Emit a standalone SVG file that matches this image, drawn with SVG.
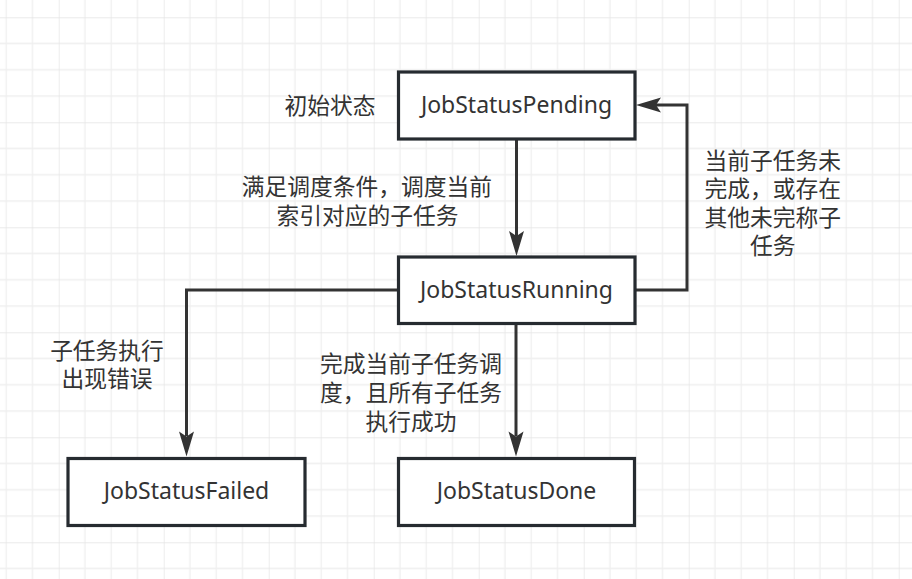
<svg xmlns="http://www.w3.org/2000/svg" width="912" height="579" viewBox="0 0 912 579">
<style>
.box{fill:#ffffff;stroke:#262b30;stroke-width:3.2;}
.lbl{font-family:"Noto Sans","Open Sans","Liberation Sans",sans-serif;font-size:23px;fill:#333333;text-anchor:middle;}
.cn{font-family:"Noto Sans CJK SC","Noto Sans",sans-serif;font-size:22.75px;fill:#333333;text-anchor:middle;}
.edge{fill:none;stroke:#333333;stroke-width:3;}
.head{fill:#333333;stroke:none;}
</style>
<defs>
<pattern id="grid" patternUnits="userSpaceOnUse" x="-46.3" y="17.3" width="105" height="105">
<path d="M26.25 0V105M52.5 0V105M78.75 0V105M0 26.25H105M0 52.5H105M0 78.75H105" stroke="#efefef" stroke-width="1.3" fill="none"/>
<path d="M0 0V105M0 0H105" stroke="#e3e3e3" stroke-width="1.3" fill="none"/>
</pattern>
</defs>
<rect x="0" y="0" width="912" height="579" fill="#ffffff"/>
<rect x="0" y="0" width="912" height="579" fill="url(#grid)"/>

<g id="connectors">
<path class="edge" d="M516.5 139V236"/>
<polygon class="head" points="516.5,256 509,231 516.5,236 524,231"/>
<path class="edge" d="M635 290H687V105H656"/>
<polygon class="head" points="636,105 661,97.5 656,105 661,112.5"/>
<path class="edge" d="M398.5 290H186.5V436"/>
<polygon class="head" points="186.5,456.5 179,431.5 186.5,436.5 194,431.5"/>
<path class="edge" d="M516 323V436"/>
<polygon class="head" points="516,456.5 508.5,431.5 516,436.5 523.5,431.5"/>
</g>

<g id="pending">
<rect class="box" x="398.5" y="72" width="236.5" height="67"/>
<text class="lbl" x="516.5" y="113.3">JobStatusPending</text>
</g>
<g id="running">
<rect class="box" x="398.5" y="257" width="236.5" height="66.5"/>
<text class="lbl" x="516.5" y="298.3">JobStatusRunning</text>
</g>
<g id="failed">
<rect class="box" x="68" y="458.5" width="237" height="67"/>
<text class="lbl" x="186.5" y="499.3">JobStatusFailed</text>
</g>
<g id="done">
<rect class="box" x="398.5" y="458.5" width="236" height="67"/>
<text class="lbl" x="516.5" y="499.3">JobStatusDone</text>
</g>

<g id="labels">
<text class="cn" x="330" y="113.6">初始状态</text>
<text class="cn" x="366.8" y="195.3">满足调度条件，调度当前</text>
<text class="cn" x="367.5" y="223.6">索引对应的子任务</text>
<text class="cn" x="772.8" y="168.5">当前子任务未</text>
<text class="cn" x="772.8" y="197">完成，或存在</text>
<text class="cn" x="772.8" y="225.5">其他未完称子</text>
<text class="cn" x="772.8" y="254">任务</text>
<text class="cn" x="107" y="358.6">子任务执行</text>
<text class="cn" x="107" y="386.6">出现错误</text>
<text class="cn" x="411" y="371.6">完成当前子任务调</text>
<text class="cn" x="411" y="400.6">度，且所有子任务</text>
<text class="cn" x="411" y="429.6">执行成功</text>
</g>
</svg>
